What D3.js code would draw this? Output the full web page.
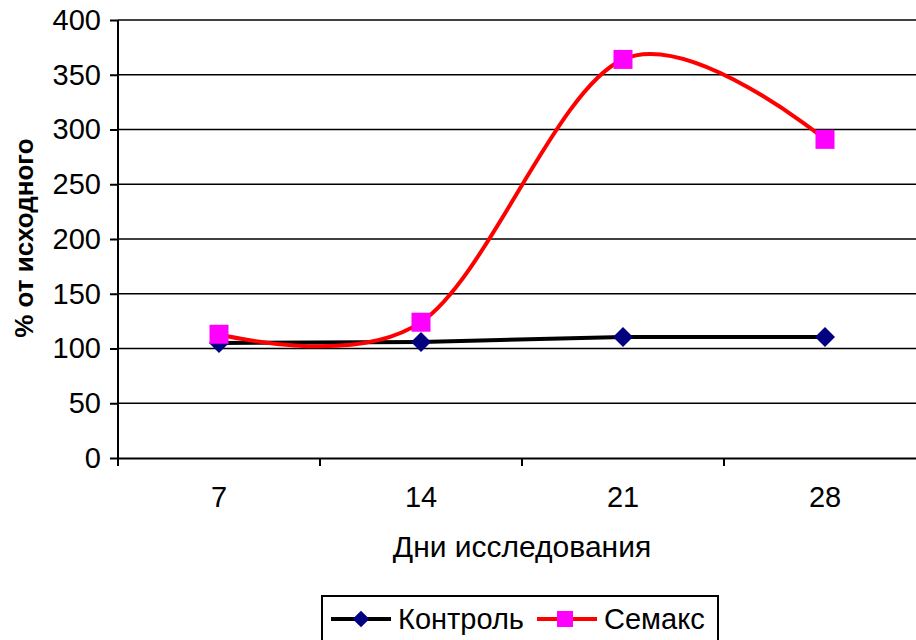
<!DOCTYPE html>
<html>
<head>
<meta charset="utf-8">
<script src="https://cdn.jsdelivr.net/npm/d3@7"></script>
<style>
  html, body { margin: 0; padding: 0; background: #fff; }
  svg { display: block; }
  text { font-family: "Liberation Sans", Arial, sans-serif; fill: #000; }
</style>
</head>
<body>
<svg id="chart" width="916" height="640"></svg>
<script>
const categories = ["7", "14", "21", "28"];
const controlValues = [105, 106, 110.5, 110.5];
const semaxValues = [113, 124, 364, 291];
const yTicks = [0, 50, 100, 150, 200, 250, 300, 350, 400];
const seriesNames = ["Контроль", "Семакс"];
const xTitle = "Дни исследования";
const yTitle = "% от исходного";

const svg = d3.select("#chart");
const plotLeft = 118, plotRight = 926, plotTop = 20, plotBottom = 458;
const FONT = "Liberation Sans, Arial, sans-serif";

const x = d3.scaleBand().domain(categories).range([plotLeft, plotRight]);
const y = d3.scaleLinear().domain([0, 400]).range([plotBottom, plotTop]);
const cx = c => x(c) + x.bandwidth() / 2;

// gridlines
svg.append("g").selectAll("line").data(yTicks.filter(d => d > 0)).join("line")
  .attr("x1", plotLeft).attr("x2", plotRight)
  .attr("y1", d => y(d)).attr("y2", d => y(d))
  .attr("stroke", "#000").attr("stroke-width", 1.5);

// y axis
const yAxis = d3.axisLeft(y).tickValues(yTicks).tickSize(8).tickPadding(9);
const gy = svg.append("g").attr("transform", `translate(${plotLeft},0)`).call(yAxis);
gy.select(".domain").attr("stroke", "#000").attr("stroke-width", 2).attr("d", `M0,${plotTop}V${plotBottom}`);
gy.selectAll(".tick line").attr("stroke", "#000").attr("stroke-width", 2);
gy.selectAll(".tick text").style("font-size", "29px").style("font-family", FONT).attr("fill", "#000");

// x axis
const xAxis = d3.axisBottom(x).tickSize(0).tickPadding(28);
const gx = svg.append("g").attr("transform", `translate(0,${plotBottom})`).call(xAxis);
gx.select(".domain").attr("stroke", "#000").attr("stroke-width", 2);
gx.selectAll(".tick text").style("font-size", "29px").style("font-family", FONT).attr("fill", "#000");
// category boundary ticks
gx.append("g").selectAll("line").data(categories).join("line")
  .attr("x1", d => x(d)).attr("x2", d => x(d))
  .attr("y1", 0).attr("y2", 8)
  .attr("stroke", "#000").attr("stroke-width", 2);

// axis titles
svg.append("text").attr("x", 522).attr("y", 557).attr("text-anchor", "middle")
  .style("font-size", "30px").text(xTitle);
svg.append("text").attr("transform", "translate(33,238) rotate(-90)").attr("text-anchor", "middle")
  .style("font-size", "26px").style("font-weight", "bold").text(yTitle);

// lines
const lineLinear = d3.line().x((d, i) => cx(categories[i])).y(d => y(d));
const lineSmooth = d3.line().x((d, i) => cx(categories[i])).y(d => y(d)).curve(d3.curveCardinal.tension(0));

svg.append("path").datum(controlValues).attr("d", lineLinear)
  .attr("fill", "none").attr("stroke", "#000").attr("stroke-width", 4);
svg.append("path").datum(semaxValues).attr("d", lineSmooth)
  .attr("fill", "none").attr("stroke", "#ff0000").attr("stroke-width", 4);

// markers
svg.append("g").selectAll("path").data(controlValues).join("path")
  .attr("transform", (d, i) => `translate(${cx(categories[i])},${y(d)}) rotate(45)`)
  .attr("d", d3.symbol().type(d3.symbolSquare).size(200))
  .attr("fill", "#000080");
svg.append("g").selectAll("rect").data(semaxValues).join("rect")
  .attr("x", (d, i) => cx(categories[i]) - 9.5).attr("y", d => y(d) - 9.5)
  .attr("width", 19).attr("height", 19).attr("fill", "#ff00ff");

// legend
const lg = svg.append("g");
lg.append("rect").attr("x", 322).attr("y", 596).attr("width", 396).attr("height", 60)
  .attr("fill", "#fff").attr("stroke", "#000").attr("stroke-width", 2);
lg.append("line").attr("x1", 331).attr("x2", 391).attr("y1", 619).attr("y2", 619)
  .attr("stroke", "#000").attr("stroke-width", 4);
lg.append("path").attr("transform", "translate(361,619) rotate(45)")
  .attr("d", d3.symbol().type(d3.symbolSquare).size(140)).attr("fill", "#000080");
lg.append("text").attr("x", 398).attr("y", 629).style("font-size", "29px").text(seriesNames[0]);
lg.append("line").attr("x1", 537).attr("x2", 597).attr("y1", 619).attr("y2", 619)
  .attr("stroke", "#ff0000").attr("stroke-width", 4);
lg.append("rect").attr("x", 557).attr("y", 611).attr("width", 16).attr("height", 16).attr("fill", "#ff00ff");
lg.append("text").attr("x", 604).attr("y", 629).style("font-size", "29px").text(seriesNames[1]);
</script>
</body>
</html>
